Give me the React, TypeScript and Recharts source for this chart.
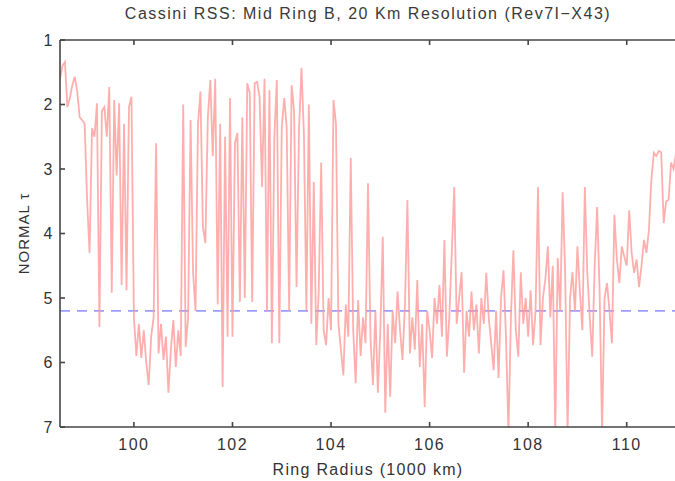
import { Line, LineChart, ReferenceLine, XAxis, YAxis } from "recharts";

// ring radius grid (1000 km): first sample and spacing
const R_START = 98.5;
const R_STEP = 0.05;

// normal optical depth, one value per radius sample
const TAU = [
  1.6, 1.4, 1.34, 2.04, 1.9, 1.7, 1.57, 1.8, 2.2, 2.24,
  2.3, 3.48, 4.3, 2.37, 2.5, 1.98, 5.45, 2.1, 2.04, 2.5,
  1.73, 4.92, 1.93, 3.1, 1.98, 4.8, 2.3, 4.88, 2.04, 1.88,
  5.3, 5.9, 5.4, 5.93, 5.5, 6.0, 6.35, 5.6, 5.3, 2.6,
  5.86, 5.4, 5.96, 5.6, 6.47, 5.8, 5.34, 6.07, 5.5, 5.9,
  2.0, 5.76, 5.3, 2.24, 4.6, 5.2, 2.3, 1.8, 3.9, 4.15,
  2.2, 1.62, 2.8, 1.6, 5.1, 2.3, 6.38, 2.5, 5.6, 1.9,
  5.6, 2.6, 2.44, 5.06, 2.2, 5.0, 1.67, 1.82, 5.06, 1.67,
  1.65, 1.88, 3.28, 1.6, 5.2, 1.78, 5.7, 2.5, 1.62, 5.7,
  2.35, 1.9, 2.35, 5.2, 1.7, 2.1, 4.83, 2.4, 1.43, 2.47,
  5.19, 2.0, 5.4, 3.2, 5.73, 4.9, 2.9, 5.5, 5.73, 5.0,
  5.5, 1.93, 2.3, 5.4, 5.8, 6.2, 5.1, 5.6, 2.83, 5.5,
  6.32, 5.03, 5.9, 5.3, 5.7, 3.22, 5.6, 6.35, 5.2, 6.47,
  5.5, 4.05, 6.78, 5.4, 6.53, 5.2, 5.7, 4.9, 5.5, 5.96,
  5.1, 3.48, 5.86, 5.3, 5.8, 4.72, 6.07, 5.4, 6.69, 5.2,
  5.5, 5.93, 5.0, 5.4, 4.8, 5.6, 4.1, 5.91, 5.3, 4.3,
  3.28, 5.4, 5.0, 4.6, 6.16, 5.2, 5.6, 4.9, 5.5, 5.1,
  5.86, 5.0, 5.4, 4.61, 5.3, 5.7, 6.12, 5.2, 6.24, 5.0,
  4.57, 5.6, 7.1, 5.3, 4.26, 5.5, 5.91, 4.6, 5.4, 5.0,
  5.6, 4.88, 5.73, 5.2, 3.28, 5.73, 5.0, 4.7, 4.2, 5.3,
  4.5, 7.1, 4.38, 5.2, 3.36, 4.57, 7.1, 5.0, 4.6, 5.2,
  4.2, 4.9, 5.5, 3.28, 4.6, 5.3, 5.91, 4.5, 3.59, 4.9,
  7.1, 5.0, 4.77, 5.2, 5.7, 3.71, 4.4, 4.77, 4.2, 4.36,
  4.5, 3.64, 4.3, 4.61, 4.4, 4.83, 4.5, 4.1, 4.3, 3.95,
  3.17, 2.75, 2.8, 2.72, 2.74, 3.84, 3.5, 3.48, 2.9, 3.0, 2.75,
];

const X_TICKS = [100, 102, 104, 106, 108, 110];
const Y_TICKS = [1, 2, 3, 4, 5, 6, 7];
const THRESHOLD = 5.2;

const data = TAU.map((tau, i) => ({ r: R_START + i * R_STEP, tau }));

const font = '"Liberation Sans", Arial, sans-serif';
const tickStyle = { fontSize: 16, fill: "#333", fontFamily: font, letterSpacing: 1.5 };
const axisStroke = { stroke: "#444", strokeWidth: 1.6 };

export default function App() {
  return (
    <div
      style={{
        position: "absolute",
        left: 0,
        top: 0,
        width: 675,
        height: 481,
        overflow: "hidden",
        background: "#fff",
        fontFamily: font,
      }}
    >
      <div
        style={{
          position: "absolute",
          left: 60,
          width: 616,
          top: 5,
          textAlign: "center",
          fontSize: 16,
          letterSpacing: 1.5,
          color: "#3a3a3a",
        }}
      >
        Cassini RSS: Mid Ring B, 20 Km Resolution (Rev7I−X43)
      </div>
      <LineChart
        width={690}
        height={481}
        data={data}
        margin={{ top: 38, right: 14, bottom: 0, left: 0 }}
      >
        <XAxis
          dataKey="r"
          type="number"
          domain={[98.5, 111]}
          ticks={X_TICKS}
          allowDataOverflow
          height={54}
          tickSize={-5}
          tickMargin={17}
          tick={tickStyle}
          tickLine={axisStroke}
          axisLine={axisStroke}
          label={{
            value: "Ring Radius (1000 km)",
            position: "insideBottom",
            offset: 6,
            style: { fontSize: 16, fill: "#333", fontFamily: font, letterSpacing: 1.3 },
          }}
        />
        <XAxis
          xAxisId="top"
          orientation="top"
          dataKey="r"
          type="number"
          domain={[98.5, 111]}
          ticks={X_TICKS}
          allowDataOverflow
          height={2}
          tickSize={-5}
          tickFormatter={() => ""}
          tickLine={axisStroke}
          axisLine={axisStroke}
        />
        <YAxis
          type="number"
          domain={[1, 7]}
          ticks={Y_TICKS}
          reversed
          allowDataOverflow
          width={60}
          tickSize={-5}
          tickMargin={11}
          tick={tickStyle}
          tickLine={axisStroke}
          axisLine={axisStroke}
          label={{
            value: "NORMAL τ",
            angle: -90,
            position: "insideLeft",
            offset: 24,
            style: { fontSize: 15, fill: "#333", fontFamily: font, textAnchor: "middle", letterSpacing: 1 },
          }}
        />
        <ReferenceLine
          y={THRESHOLD}
          stroke="#9c9cff"
          strokeWidth={1.8}
          strokeDasharray="10 7"
          ifOverflow="hidden"
        />
        <Line
          type="linear"
          dataKey="tau"
          stroke="#ff9a9a"
          strokeOpacity={0.8}
          strokeWidth={1.8}
          dot={false}
          isAnimationActive={false}
        />
      </LineChart>
    </div>
  );
}
